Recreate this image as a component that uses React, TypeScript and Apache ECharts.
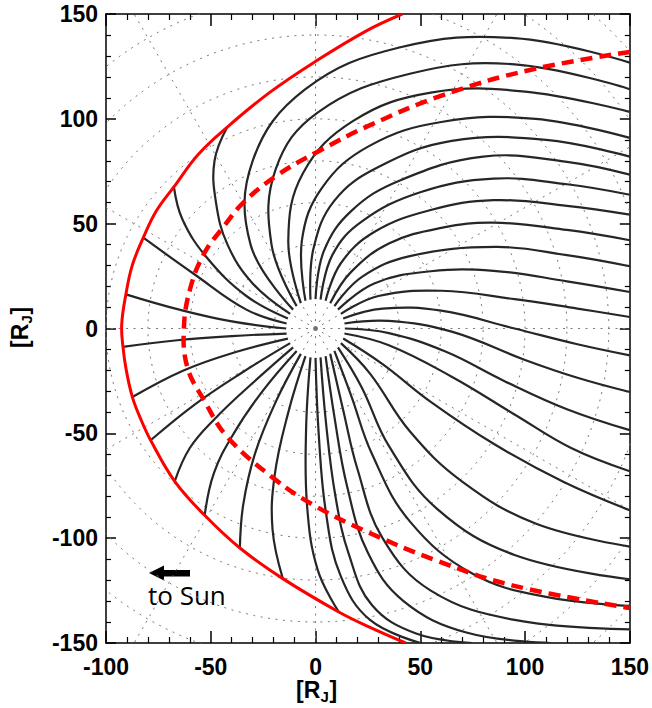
import React, { useEffect, useRef } from 'react';
import * as echarts from 'echarts';

type Pt = [number, number];

// Magnetopause (solid red)
const magnetopause: Pt[] = [
  [41.4, 150], [24.7, 142.2], [0, 127.4], [-22, 112.5], [-42.1, 96.1], [-56, 83], [-67.6, 67.5],
  [-76, 56], [-82.2, 43.3], [-87.5, 30], [-90.5, 16.3], [-92.5, 2], [-91.9, -8.8], [-90.3, -20],
  [-87.4, -32.7], [-83.5, -43], [-78.7, -53.3], [-67.2, -72.9], [-52.9, -89.1], [-36.1, -104.7],
  [-15.6, -119.3], [11.1, -135.2], [25.5, -142.3], [43, -150],
];

// Dashed red boundary
const dashedBoundary: Pt[] = [
  [150, 131.9], [101.8, 123.2], [60.5, 111.2], [25, 96.5], [0.8, 84.2], [-18.3, 73.1],
  [-34.2, 60.3], [-44, 48.4], [-53.2, 35.7], [-59.6, 19.8], [-62.8, 0.7], [-61.2, -18.4],
  [-53.2, -34.2], [-42.1, -51.7], [-19.8, -71.6], [-0.8, -84.3], [24.7, -97], [57.3, -110.5],
  [93.8, -122.5], [150, -133.3],
];

// Field lines ending on the magnetopause (dayside)
const dayFieldLines: Pt[][] = [
  [[-12.1, 7], [-30, 21.5], [-42, 40], [-47.5, 60], [-48.2, 80], [-42.1, 96.1]],
  [[-13.2, 4.8], [-33, 15.5], [-52, 34], [-63.5, 52], [-67.6, 67.5]],
  [[-13.8, 2.4], [-33, 9], [-58, 26], [-82.2, 43.3]],
  [[-14, 0], [-40, 3.4], [-65, 9], [-90.5, 16.3]],
  [[-13.8, -2.4], [-40, -3.6], [-66, -5.6], [-91.9, -8.8]],
  [[-13.2, -4.8], [-38, -11.2], [-63, -20], [-87.4, -32.7]],
  [[-12.1, -7], [-35, -21], [-58, -36.5], [-78.7, -53.3]],
  [[-10.7, -9], [-30, -26], [-48, -43], [-60, -57], [-67.2, -72.9]],
  [[-9, -10.7], [-25, -29.5], [-39, -50], [-48.5, -69], [-52.9, -89.1]],
  [[-7, -12.1], [-19, -35], [-29, -60], [-34.5, -84], [-36.1, -104.7]],
  [[-4.8, -13.2], [-13, -40], [-19.5, -70], [-20.5, -96], [-15.6, -119.3]],
  [[-2.4, -13.8], [-4.5, -48], [-4, -85], [1, -115], [11.1, -135.2]],
];

// Field lines swept into the northern tail (exit at the right edge)
const northTailLines: Pt[][] = [
  [[14, 0], [35, -2.2], [62, -11], [90, -25], [120, -38.5], [150, -48.5]],
  [[13.8, 2.4], [35, 3.6], [65, -1.5], [100, -15], [125, -23.5], [150, -30.3]],
  [[13.2, 4.8], [32, 9.5], [60, 8.5], [95, 0], [125, -7.5], [150, -12.8]],
  [[12.1, 7], [30, 15.5], [60, 18], [95, 14], [125, 9.5], [150, 5.5]],
  [[10.7, 9], [28, 21.5], [55, 27.3], [85, 27.5], [120, 22.5], [150, 17.4]],
  [[9, 10.7], [22, 24.5], [45, 34.5], [86, 38.9], [120, 35], [150, 29.7]],
  [[7, 12.1], [17, 27], [35, 40.5], [60, 48], [85, 50.5], [120, 47], [150, 42.1]],
  [[4.8, 13.2], [12, 31], [28, 46], [55, 56.5], [85, 61.2], [120, 58.5], [150, 54.3]],
  [[2.4, 13.8], [8, 35], [22, 51], [50, 65], [85, 71.5], [120, 68.8], [150, 63.8]],
  [[0, 14], [4, 37], [17, 56], [40, 70.5], [80, 82], [120, 79.5], [150, 73.4]],
  [[-2.4, 13.8], [-1, 38], [9, 61], [30, 77], [65, 89.5], [110, 90], [150, 82]],
  [[-4.8, 13.2], [-6.5, 42], [3, 67], [25.5, 87], [60, 98.5], [105, 100], [150, 90.9]],
  [[-7, 12.1], [-13, 42], [-6, 74], [18, 99], [55, 112.5], [100, 113], [150, 103.3]],
  [[-9, 10.7], [-21, 40], [-19, 76], [1, 103], [45, 121.5], [95, 126], [150, 114.1]],
  [[-10.7, 9], [-31, 40], [-30, 80], [-5, 114], [40, 134], [95, 138.5], [150, 126.8]],
];

// Field lines swept into the southern tail (exit at the bottom / right edge)
const southTailLines: Pt[][] = [
  [[0, -14], [1.5, -50], [5, -88], [12, -118], [26, -139], [50.1, -150]],
  [[2.4, -13.8], [5, -45], [9.5, -80], [16, -108], [27, -132], [48, -145.5], [74.8, -150]],
  [[4.8, -13.2], [9, -42], [15, -75], [25, -107], [42, -130], [72, -145], [112.2, -150]],
  [[7, -12.1], [13, -38], [20, -67], [32, -100], [55, -125], [95, -139], [150, -143.5]],
  [[9, -10.7], [17, -32], [27, -60], [45, -92], [75, -117], [110, -128], [150, -132.3]],
  [[10.7, -9], [22, -28], [35, -56], [58, -86], [95, -108], [150, -119.6]],
  [[12.1, -7], [26, -21.5], [45, -49], [70, -73], [105, -93], [150, -104]],
  [[13.2, -4.8], [32, -17], [55, -35], [85, -55], [118, -73], [150, -86.7]],
  [[13.8, -2.4], [35, -8], [65, -23], [95, -41], [122, -57], [150, -68.1]],
];

// Polar reference grid
const gridRadii = [20, 40, 60, 80, 100, 120, 140, 160, 180, 200, 220];
const gridAngles = [0, 30, 60, 90, 120, 150, 180, 210, 240, 270, 300, 330];

const GRID = { left: 106, top: 14, width: 524, height: 629 };

type Curve = { pts: Pt[]; stroke: string; width: number; dash?: number[] };

export default function App() {
  const ref = useRef<HTMLDivElement>(null);

  useEffect(() => {
    document.body.style.margin = '0';
    const chart = echarts.init(ref.current as HTMLDivElement, undefined, { renderer: 'svg' });

    const gridStyle = { color: '#7a7a7a', width: 1, type: [2, 5.5] as number[] };
    const series: any[] = [];

    gridRadii.forEach((r) => {
      const pts: Pt[] = [];
      for (let a = 0; a <= 360; a += 2) {
        const t = (a * Math.PI) / 180;
        pts.push([r * Math.cos(t), r * Math.sin(t)]);
      }
      series.push({ type: 'line', data: pts, symbol: 'none', silent: true, z: 1, lineStyle: gridStyle });
    });
    gridAngles.forEach((a) => {
      const t = (a * Math.PI) / 180;
      series.push({
        type: 'line', data: [[0, 0], [240 * Math.cos(t), 240 * Math.sin(t)]], symbol: 'none', silent: true, z: 1,
        lineStyle: gridStyle,
      });
    });

    const curves: Curve[] = [
      ...[...dayFieldLines, ...northTailLines, ...southTailLines].map((pts) => ({ pts, stroke: '#262626', width: 2.2 })),
      { pts: magnetopause, stroke: '#ff0000', width: 3 },
      { pts: dashedBoundary, stroke: '#ff0000', width: 4.5, dash: [12, 7] },
    ];

    series.push({
      type: 'custom',
      coordinateSystem: 'cartesian2d',
      data: curves.map((c, i) => [c.pts[0][0], c.pts[0][1], i]),
      clip: true,
      silent: true,
      z: 3,
      renderItem: (params: any, api: any) => {
        const c = curves[params.dataIndex];
        const pts = c.pts.map((p) => api.coord(p));
        return {
          type: 'polyline',
          shape: { points: pts, smooth: 0.4 },
          style: {
            stroke: c.stroke, lineWidth: c.width, fill: null,
            lineDash: c.dash || null, lineCap: 'butt', lineJoin: 'round',
          },
        };
      },
    });

    series.push({
      type: 'scatter', data: [[0, 0]], symbolSize: 5, z: 5, silent: true,
      itemStyle: { color: '#707070' },
    });

    const labelFont = { fontSize: 23, fontWeight: 'bold' as const, fontFamily: 'Liberation Sans', color: '#000' };
    const axisCommon = (isX: boolean, pos: string, showLabel: boolean) => ({
      type: 'value',
      position: pos,
      min: isX ? -100 : -150,
      max: 150,
      interval: 50,
      axisLine: { show: true, onZero: false, lineStyle: { color: '#000', width: 1.5 } },
      axisTick: { show: true, inside: true, length: isX ? 12 : 10, lineStyle: { color: '#000', width: 1.5 } },
      minorTick: { show: true, splitNumber: 5, length: isX ? 6 : 5, lineStyle: { color: '#000', width: 1.2 } },
      splitLine: { show: false },
      minorSplitLine: { show: false },
      axisLabel: { show: showLabel, margin: isX ? 12 : 8, ...labelFont },
    });

    const titleFont = 'bold 23px "Liberation Sans"';
    const subFont = 'bold 15px "Liberation Sans"';
    const titleChildren = [
      { type: 'text', x: -20, y: 0, style: { text: '[R', font: titleFont, fill: '#000', textAlign: 'left', textVerticalAlign: 'middle' } },
      { type: 'text', x: 4.5, y: 6, style: { text: 'J', font: subFont, fill: '#000', textAlign: 'left', textVerticalAlign: 'middle' } },
      { type: 'text', x: 13.5, y: 0, style: { text: ']', font: titleFont, fill: '#000', textAlign: 'left', textVerticalAlign: 'middle' } },
    ];

    chart.setOption({
      animation: false,
      backgroundColor: '#fff',
      grid: GRID,
      xAxis: [axisCommon(true, 'bottom', true), axisCommon(true, 'top', false)],
      yAxis: [axisCommon(false, 'left', true), axisCommon(false, 'right', false)],
      series,
      graphic: [
        { type: 'group', x: 316, y: 690, children: titleChildren },
        { type: 'group', x: 20, y: 328, rotation: Math.PI / 2, children: titleChildren },
        { type: 'rect', shape: { x: 161, y: 570, width: 29, height: 6.5 }, style: { fill: '#000' } },
        { type: 'polygon', shape: { points: [[149, 573], [164, 565.5], [164, 580.5]] }, style: { fill: '#000' } },
        {
          type: 'text', x: 148, y: 595,
          style: { text: 'to Sun', font: 'normal 26px "Open Sans"', fill: '#000', textAlign: 'left', textVerticalAlign: 'middle' },
        },
      ],
    });

    return () => chart.dispose();
  }, []);

  return <div ref={ref} style={{ width: 652, height: 708 }} />;
}
